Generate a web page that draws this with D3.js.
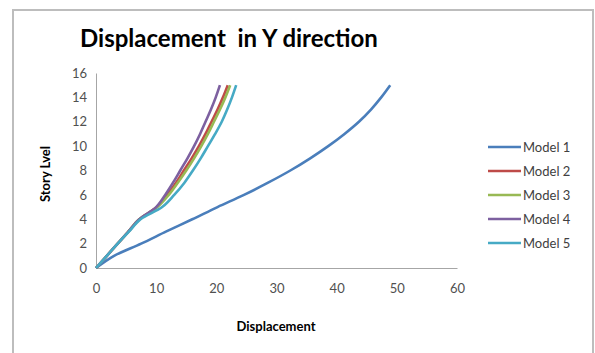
<!doctype html>
<html>
<head>
  <meta charset="utf-8">
  <script src="https://cdnjs.cloudflare.com/ajax/libs/d3/7.8.5/d3.min.js"></script>
  <style>
    body { margin: 0; background: white; }
    text { font-family: Lato, 'Open Sans', sans-serif; fill: #404040; }
  </style>
</head>
<body>
  <script>
    const stories = d3.range(0, 16);
    const model1 = [0, 3, 7.5, 11.7, 16, 20.2, 24.6, 28.6, 32.3, 35.6, 38.6, 41.3, 43.7, 45.7, 47.4, 48.9];
    const model2 = [0, 1.8, 3.6, 5.4, 7.2, 10.1, 11.8, 13.3, 14.6, 15.9, 17.1, 18.2, 19.2, 20.2, 21.1, 21.9];
    const model3 = [0, 1.8, 3.6, 5.4, 7.2, 10.2, 12.1, 13.6, 15, 16.3, 17.5, 18.6, 19.6, 20.6, 21.5, 22.3];
    const model4 = [0, 1.8, 3.6, 5.4, 7.2, 10, 11.5, 12.8, 14, 15.2, 16.3, 17.3, 18.2, 19.1, 19.9, 20.6];
    const model5 = [0, 1.8, 3.6, 5.5, 7.4, 11, 13, 14.7, 16.1, 17.4, 18.6, 19.8, 20.9, 21.8, 22.6, 23.3];
    const seriesNames = ['Model 1', 'Model 2', 'Model 3', 'Model 4', 'Model 5'];
    const seriesColors = ['#4a7ebb', '#be4b48', '#98b954', '#7d60a0', '#46aac5'];
    const xTicks = [0, 10, 20, 30, 40, 50, 60];
    const yTicks = [0, 2, 4, 6, 8, 10, 12, 14, 16];

    const series = [model1, model2, model3, model4, model5].map((vals, i) => ({
      name: seriesNames[i], color: seriesColors[i],
      points: vals.map((v, j) => [v, stories[j]])
    }));

    const width = 595, height = 353;
    const svg = d3.select('body').append('svg')
      .attr('width', width)
      .attr('height', height);

    // chart border
    svg.append('path')
      .attr('d', `M13,${height} V10 H593 V${height}`)
      .attr('fill', 'none')
      .attr('stroke', '#bdbdbd')
      .attr('stroke-width', 2);

    const x = d3.scaleLinear().domain([0, 60]).range([96, 457]);
    const y = d3.scaleLinear().domain([0, 16]).range([268, 73]);

    svg.append('text')
      .attr('x', 80).attr('y', 47)
      .style('font-size', '24px').style('font-weight', 'bold').style('fill', '#000')
      .style('white-space', 'pre')
      .text('Displacement  in Y direction');

    // axes
    const xAxis = svg.append('g').attr('transform', 'translate(0,268)')
      .call(d3.axisBottom(x).tickValues(xTicks).tickSize(0).tickPadding(16));
    const yAxis = svg.append('g').attr('transform', 'translate(96,0)')
      .call(d3.axisLeft(y).tickValues(yTicks).tickSize(0).tickPadding(9));
    [xAxis, yAxis].forEach(a => {
      a.select('.domain').attr('stroke', '#a6a6a6').attr('stroke-width', 1);
      a.selectAll('text').style('font-size', '13px').style('fill', '#505050')
        .style('font-family', 'Lato, sans-serif');
    });

    svg.append('text')
      .attr('x', 276).attr('y', 331)
      .attr('text-anchor', 'middle')
      .style('font-size', '13px').style('font-weight', 'bold').style('fill', '#000')
      .text('Displacement');

    svg.append('text')
      .attr('transform', 'translate(50,174) rotate(-90)')
      .attr('text-anchor', 'middle')
      .style('font-size', '13px').style('font-weight', 'bold').style('fill', '#000')
      .text('Story Lvel');

    const line = d3.line()
      .x(d => x(d[0]))
      .y(d => y(d[1]))
      .curve(d3.curveCatmullRom.alpha(0.5));

    svg.selectAll('.series').data(series).enter().append('path')
      .attr('class', 'series')
      .attr('d', d => line(d.points))
      .attr('fill', 'none')
      .attr('stroke', d => d.color)
      .attr('stroke-width', 2.6)
      .attr('stroke-linejoin', 'round');

    const legend = svg.selectAll('.legend').data(series).enter().append('g')
      .attr('class', 'legend')
      .attr('transform', (d, i) => `translate(488,${147 + i * 24})`);
    legend.append('line')
      .attr('x1', 0).attr('x2', 33)
      .attr('stroke', d => d.color).attr('stroke-width', 2.6);
    legend.append('text')
      .attr('x', 35).attr('dy', '0.35em')
      .style('font-size', '13px')
      .text(d => d.name);
  </script>
</body>
</html>
